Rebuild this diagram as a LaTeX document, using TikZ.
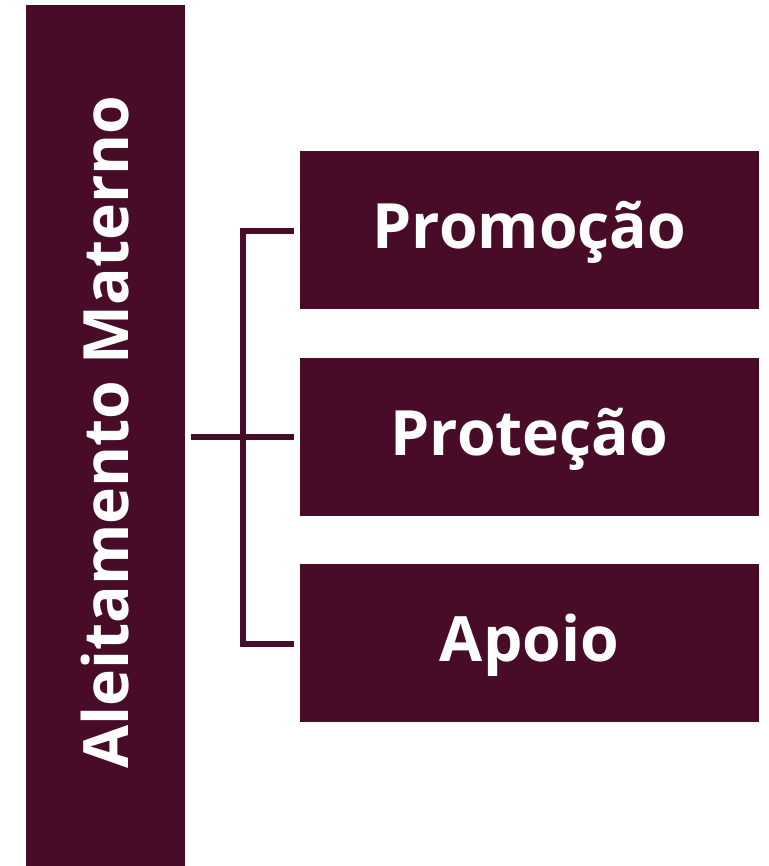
\documentclass[tikz,border=0pt]{standalone}
\usepackage{fontspec}
\setmainfont{Open Sans}
\definecolor{maroon}{HTML}{480C28}
\begin{document}
\begin{tikzpicture}[x=1pt,y=-1pt,
  boxstyle/.style={fill=maroon,draw=none,inner sep=0pt},
  labelstyle/.style={inner sep=0pt,text=white,font=\fontsize{62.5}{75}\selectfont\bfseries},
  linkstyle/.style={draw=maroon,line width=6pt}]
\useasboundingbox (0,0) rectangle (768,866);
\node[boxstyle,minimum width=159pt,minimum height=861pt] (main) at (105.5,435.5) {};
\node[labelstyle,rotate=90] (maintext) at (105.5,432) {Aleitamento Materno};
\node[boxstyle,minimum width=459pt,minimum height=158pt] (b1) at (529.5,230) {};
\node[boxstyle,minimum width=459pt,minimum height=158pt] (b2) at (529.5,437) {};
\node[boxstyle,minimum width=459pt,minimum height=158pt] (b3) at (529.5,643) {};
\node[labelstyle] (t1) at ([yshift=-2pt]b1.center) {Promoção};
\node[labelstyle] (t2) at ([yshift=-2pt]b2.center) {Proteção};
\node[labelstyle] (t3) at ([yshift=-2pt]b3.center) {Apoio};
\coordinate (j) at (243,437);
\draw[linkstyle] ([xshift=6pt]main.east |- j) -- ([xshift=-6pt]b2.west |- j);
\draw[linkstyle] ([xshift=-6pt]b1.west |- 0,231) -- (243,231) -- (243,644) -- ([xshift=-6pt]b3.west |- 0,644);
\end{tikzpicture}
\end{document}
